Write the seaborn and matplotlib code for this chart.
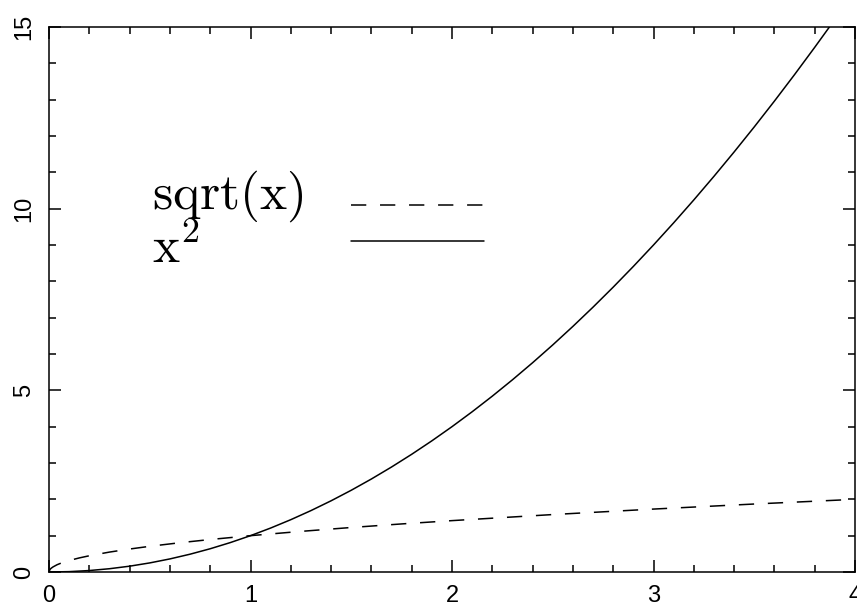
import matplotlib
matplotlib.use("Agg")
import matplotlib.pyplot as plt
import seaborn as sns
import pandas as pd
from matplotlib.ticker import MultipleLocator

# Values
x_sq = [0.0, 0.1, 0.2, 0.3, 0.4, 0.5, 0.6, 0.7, 0.8, 0.9, 1.0, 1.1, 1.2, 1.3,
        1.4, 1.5, 1.6, 1.7, 1.8, 1.9, 2.0, 2.1, 2.2, 2.3, 2.4, 2.5, 2.6, 2.7,
        2.8, 2.9, 3.0, 3.1, 3.2, 3.3, 3.4, 3.5, 3.6, 3.7, 3.8, 3.873]
y_sq = [0.0, 0.01, 0.04, 0.09, 0.16, 0.25, 0.36, 0.49, 0.64, 0.81, 1.0, 1.21,
        1.44, 1.69, 1.96, 2.25, 2.56, 2.89, 3.24, 3.61, 4.0, 4.41, 4.84, 5.29,
        5.76, 6.25, 6.76, 7.29, 7.84, 8.41, 9.0, 9.61, 10.24, 10.89, 11.56,
        12.25, 12.96, 13.69, 14.44, 15.0]

x_sqrt = [0.0, 0.005, 0.01, 0.02, 0.04, 0.06, 0.1, 0.15, 0.2, 0.3, 0.4, 0.5,
          0.65, 0.8, 1.0, 1.25, 1.5, 1.75, 2.0, 2.5, 3.0, 3.5, 4.0]
y_sqrt = [0.0, 0.07, 0.1, 0.14, 0.2, 0.245, 0.316, 0.387, 0.447, 0.548, 0.632,
          0.707, 0.806, 0.894, 1.0, 1.118, 1.225, 1.323, 1.414, 1.581, 1.732,
          1.871, 2.0]

legend_labels = [r"$\mathrm{sqrt(x)}$", r"$\mathrm{x}^{2}$"]
x_ticks = [0, 1, 2, 3, 4]
y_ticks = [0, 5, 10, 15]

sns.set_theme(style="ticks")
plt.rcParams["font.family"] = ["Liberation Sans", "DejaVu Sans"]
plt.rcParams["mathtext.fontset"] = "cm"

fig = plt.figure(figsize=(8.57, 6.05), dpi=100)
ax = fig.add_axes([49 / 857, 1 - 572 / 605, (855 - 49) / 857, (572 - 27) / 605])

df_sq = pd.DataFrame({"x": x_sq, "y": y_sq})
df_sqrt = pd.DataFrame({"x": x_sqrt, "y": y_sqrt})

sns.lineplot(data=df_sqrt, x="x", y="y", ax=ax, color="black", lw=1.1,
             sort=False, estimator=None)
ax.lines[-1].set_dashes((10, 9))
sns.lineplot(data=df_sq, x="x", y="y", ax=ax, color="black", lw=1.1,
             sort=False, estimator=None)

# legend: text on the left, sample line on the right
ax.text(0.51, 10.0, legend_labels[0], fontsize=37, color="black", va="baseline")
ax.text(0.51, 8.5, legend_labels[1], fontsize=37, color="black", va="baseline")
seg = ax.plot([1.50, 2.16], [10.1, 10.1], color="black", lw=1.1)[0]
seg.set_dashes((10, 9))
ax.plot([1.50, 2.16], [9.11, 9.11], color="black", lw=1.1)

ax.set_xlim(0, 4)
ax.set_ylim(0, 15)
ax.set_xticks(x_ticks)
ax.set_yticks(y_ticks)
ax.set_xticklabels([str(v) for v in x_ticks])
ax.set_yticklabels([str(v) for v in y_ticks], rotation=90, va="center")
ax.xaxis.set_minor_locator(MultipleLocator(0.2))
ax.yaxis.set_minor_locator(MultipleLocator(1))
ax.tick_params(which="both", direction="in", top=True, right=True,
               width=1.1, color="black")
ax.tick_params(which="major", length=8.5, labelsize=17, labelcolor="black")
ax.tick_params(axis="x", which="major", pad=9)
ax.tick_params(axis="y", which="major", pad=10)
ax.tick_params(which="minor", length=5)
ax.set_xlabel("")
ax.set_ylabel("")
for s in ax.spines.values():
    s.set_visible(True)
    s.set_linewidth(1.1)
    s.set_color("black")

fig.savefig("out.png", dpi=100)
